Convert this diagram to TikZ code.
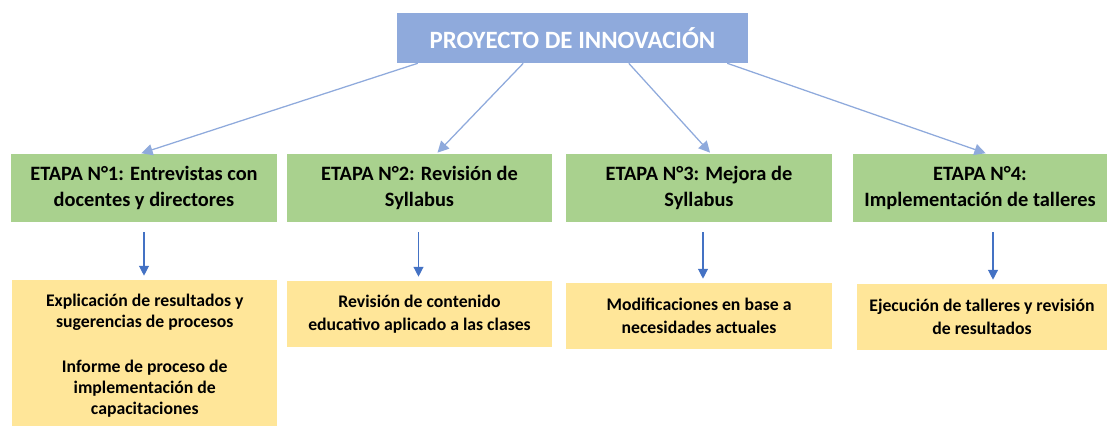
\documentclass[tikz,border=0pt]{standalone}
\usepackage{fontspec}
\setmainfont{Carlito}
\usetikzlibrary{positioning, arrows.meta, calc}
\definecolor{titleblue}{HTML}{8FAADC}
\definecolor{stagegreen}{HTML}{A9D18E}
\definecolor{noteyellow}{HTML}{FFE699}
\definecolor{arrowblue}{HTML}{4472C4}

\begin{document}
\begin{tikzpicture}[
    x=0.025cm, y=-0.025cm,
    title/.style={fill=titleblue, minimum width=8.775cm, minimum height=1.25cm,
        text=white, font=\fontsize{17.7}{20}\selectfont\bfseries},
    stage/.style={fill=stagegreen, minimum width=6.625cm, minimum height=1.7cm,
        align=center, font=\fontsize{14.5}{19}\selectfont\bfseries},
    note/.style={fill=noteyellow, minimum width=6.625cm, minimum height=1.65cm,
        align=center, font=\fontsize{12.6}{16.5}\selectfont\bfseries},
    link/.style={-{Triangle[length=8pt,width=8pt]}, titleblue, line width=0.9pt, shorten >=1pt},
    down/.style={-{Triangle[length=7pt,width=7pt]}, arrowblue, line width=0.9pt}
]
    \useasboundingbox (0,0) rectangle (1107,426);

    % top box
    \node[title] (title) at (572.5,38) {PROYECTO DE INNOVACIÓN};

    % the four stages
    \node[stage] (e1) at (144,188) {ETAPA N°1: Entrevistas con\\docentes y directores};
    \node[stage] (e2) at (419.5,188) {ETAPA N°2: Revisión de\\Syllabus};
    \node[stage] (e3) at (699,188) {ETAPA N°3: Mejora de\\Syllabus};
    \node[stage, minimum width=6.35cm] (e4) at (980,188) {ETAPA N°4:\\Implementación de talleres};

    % what each stage gives
    \node[note, minimum height=3.8cm, font=\fontsize{12.6}{15}\selectfont\bfseries] (r1) at (144.75,356)
        {Explicación de resultados y\\sugerencias de procesos\\[17pt]Informe de proceso de\\implementación de\\capacitaciones};
    \node[note] (r2) at (419.5,314) {Revisión de contenido\\educativo aplicado a las clases};
    \node[note] (r3) at (699,316) {Modificaciones en base a\\necesidades actuales};
    \node[note, minimum width=6.25cm] (r4) at (982,317) {Ejecución de talleres y revisión\\de resultados};

    \draw[link] ($(title.south west)!0.06!(title.south east)$) -- ($(e1.north)+(-4,0)$);
    \draw[link] ($(title.south west)!0.36!(title.south east)$) -- ($(e2.north)+(17,0)$);
    \draw[link] ($(title.south west)!0.66!(title.south east)$) -- ($(e3.north)+(12,0)$);
    \draw[link] ($(title.south west)!0.94!(title.south east)$) -- ($(e4.north)+(7,0)$);

    \foreach \i/\dx in {1/0, 2/-1, 3/4, 4/13}
        \draw[down] ($(e\i.south)+(\dx,10)$) -- ($(e\i.south |- r\i.north)+(\dx,-4)$);
\end{tikzpicture}
\end{document}
